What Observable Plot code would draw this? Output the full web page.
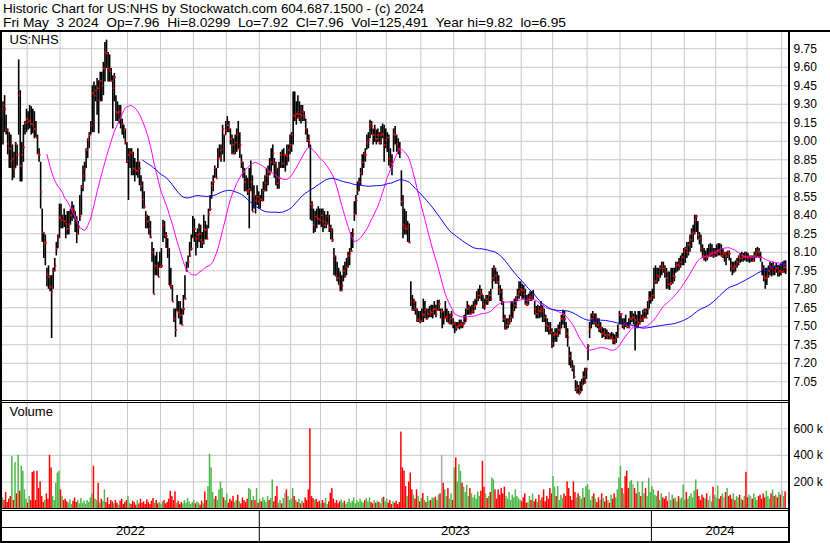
<!DOCTYPE html>
<html><head><meta charset="utf-8">
<script src="https://cdn.jsdelivr.net/npm/d3@7"></script>
<script src="https://cdn.jsdelivr.net/npm/@observablehq/plot@0.6"></script>
<style>
body{margin:0;background:#fff;}
#chart{position:relative;width:830px;height:543px;background:#fff;overflow:hidden;font-family:"Liberation Sans",Arial,sans-serif;}
#chart svg{position:absolute;}
.ln{position:absolute;background:#000;}
</style></head><body><div id="chart"></div>
<script>
const titleLine = "Historic Chart for US:NHS by Stockwatch.com 604.687.1500 - (c) 2024";
const statsLine = "Fri May  3 2024  Op=7.96  Hi=8.0299  Lo=7.92  Cl=7.96  Vol=125,491  Year hi=9.82  lo=6.95";
const symbolLabel = "US:NHS";
const volumeLabel = "Volume";

// daily bars, May 2022 - May 3 2024 (prices in cents)
const highs = [
932,937,921,910,907,905,897,891,899,897,
966,941,899,913,916,926,924,929,928,926,
924,916,905,894,883,845,826,824,797,799,
791,791,797,805,818,824,849,849,840,845,
840,843,843,845,851,848,843,839,835,856,
864,880,883,894,902,907,916,945,948,945,
951,949,956,956,964,980,982,972,970,959,
953,955,937,932,929,929,918,913,910,899,
894,894,894,891,886,883,894,883,872,867,
859,843,840,839,835,818,813,807,810,802,
810,813,836,835,826,821,813,797,783,764,
764,775,770,770,764,775,791,802,807,818,
824,839,837,826,829,833,832,826,840,835,
832,845,856,867,872,880,878,894,897,897,
913,905,916,920,916,910,905,902,905,910,
916,907,889,883,878,872,870,878,884,872,
864,856,864,859,856,861,867,872,878,880,
886,894,897,886,883,878,883,891,893,894,
889,897,897,905,907,940,940,932,937,932,
929,929,924,918,910,905,897,851,845,843,
845,847,845,845,845,843,840,843,840,832,
829,813,807,802,797,794,791,799,802,805,
810,813,826,829,851,856,867,870,878,889,
891,894,905,907,917,916,910,913,909,910,
907,912,914,913,910,907,905,894,889,910,
912,905,902,899,876,856,845,843,835,833,
786,775,772,770,764,762,762,764,772,770,
764,764,766,767,767,770,767,771,771,764,
764,762,770,764,762,760,762,756,753,753,
753,755,755,753,759,764,770,767,766,767,
770,772,778,780,783,780,775,772,775,775,
778,780,797,799,797,794,791,783,780,770,
759,756,756,759,770,770,772,774,780,786,
786,784,783,780,775,776,778,778,779,770,
766,767,766,770,767,764,759,756,753,753,
748,745,748,748,751,753,759,763,762,753,
748,733,729,722,718,706,705,702,705,707,
713,716,716,735,753,760,762,760,760,756,
756,753,749,748,748,747,745,744,745,744,
743,745,751,762,760,756,756,759,753,756,
762,762,760,762,759,762,762,759,763,764,
764,770,778,778,780,797,799,797,797,799,
802,802,799,797,794,794,797,797,797,802,
802,805,807,809,813,814,818,818,824,829,
832,840,840,835,826,824,816,813,811,813,
816,817,816,813,813,816,817,817,816,813,
810,810,811,811,805,802,802,803,805,807,
809,810,809,810,810,809,807,807,807,810,
813,814,813,810,802,799,797,797,799,802,
801,802,799,801,799,799,801,802,803,803];
const lows = [
897,907,905,889,878,878,868,870,878,880,
905,867,867,883,905,907,909,910,905,906,
902,903,889,883,845,818,805,799,782,780,
778,740,780,794,807,813,821,829,829,830,
821,824,824,832,835,837,826,817,824,835,
840,859,867,878,886,894,905,907,907,932,
921,906,932,932,937,948,959,948,948,948,
910,932,916,916,914,910,905,902,897,882,
852,878,872,872,867,872,870,864,859,845,
845,829,829,824,821,802,776,791,791,790,
797,797,818,821,813,805,783,780,770,753,
741,762,756,751,751,759,772,794,797,806,
811,821,818,807,813,818,813,813,816,820,
820,829,843,853,859,870,870,878,886,883,
889,883,905,907,907,897,889,889,889,891,
893,886,878,870,859,859,856,829,859,843,
845,841,848,845,845,851,851,859,859,864,
872,875,880,870,864,861,861,878,878,878,
875,880,883,889,891,897,916,913,918,916,
914,916,916,905,899,894,836,835,825,826,
829,832,832,830,826,829,829,832,826,820,
818,791,790,786,783,778,778,786,789,791,
797,799,810,813,835,840,856,859,864,872,
878,883,893,894,902,905,897,899,897,899,
897,897,902,883,894,891,880,878,872,891,
897,891,889,886,847,821,824,824,818,817,
766,762,762,759,753,753,752,753,753,756,
755,756,757,757,756,759,757,762,762,756,
748,751,756,753,752,751,751,748,744,746,
748,747,748,748,751,753,759,759,759,760,
760,763,767,770,772,770,764,763,767,767,
770,770,780,786,784,784,775,770,767,753,
747,747,748,751,753,756,762,764,770,772,
774,772,772,767,766,767,770,770,771,759,
756,756,756,757,753,753,745,745,743,743,
732,733,737,737,741,743,748,751,748,740,
733,718,716,713,707,697,695,695,695,697,
702,703,707,722,740,748,751,751,749,748,
745,744,740,741,739,739,739,739,739,735,
735,736,740,751,751,748,747,749,748,748,
751,753,751,730,748,748,751,753,753,756,
756,759,764,768,770,772,784,784,786,789,
791,793,789,780,780,779,783,784,786,793,
794,795,797,799,799,801,805,807,810,813,
818,824,826,820,816,810,805,803,802,803,
806,806,806,805,806,806,807,807,806,805,
802,799,805,803,794,791,793,794,797,799,
801,802,802,803,802,802,801,802,802,802,
805,806,805,802,791,786,780,783,789,791,
790,791,791,793,790,790,791,793,793,792];
const closes = [
929,926,909,898,894,884,886,878,898,889,
937,880,889,895,915,918,916,917,914,913,
910,903,890,889,859,826,817,818,792,790,
782,778,795,799,813,822,838,836,839,835,
833,829,833,840,845,844,839,825,830,839,
863,872,878,893,901,905,913,939,937,941,
943,933,949,945,959,972,971,959,957,949,
943,952,924,923,924,921,914,909,899,884,
889,891,890,878,877,876,884,878,864,853,
847,839,835,829,822,810,776,799,797,790,
798,799,832,824,823,813,783,782,770,756,
747,762,761,759,751,764,772,795,802,807,
813,822,829,821,824,825,820,818,829,828,
821,841,845,864,867,878,870,886,887,893,
910,905,909,913,910,902,897,890,899,905,
894,897,883,875,867,860,859,861,867,843,
856,852,855,851,853,852,860,866,872,875,
874,883,890,882,878,866,870,889,882,889,
889,888,893,897,905,921,920,922,919,922,
921,924,920,910,901,899,849,848,832,839,
838,837,836,840,835,832,834,839,830,828,
820,807,791,789,784,779,783,795,791,798,
807,809,811,825,841,852,860,867,874,883,
890,889,899,901,914,912,905,910,902,905,
899,905,906,897,901,903,886,882,880,906,
905,898,894,891,851,832,830,829,831,818,
770,763,770,764,755,756,754,760,759,763,
756,760,762,761,763,764,760,763,768,762,
762,756,757,758,753,756,759,752,753,749,
750,751,752,751,753,756,764,766,760,762,
766,767,772,775,778,776,768,766,772,770,
775,772,789,797,791,786,780,778,772,756,
748,751,753,755,757,762,767,772,775,778,
780,779,776,768,767,772,774,772,776,764,
760,763,762,764,762,757,751,750,748,745,
736,743,744,743,747,748,756,759,756,744,
741,726,722,716,709,699,700,695,697,703,
709,705,715,734,748,756,759,753,757,751,
748,749,744,745,743,741,743,740,741,739,
737,741,748,759,760,751,752,751,750,749,
756,757,757,755,751,753,756,755,757,762,
757,764,772,773,775,786,787,791,790,797,
799,797,794,789,784,784,785,791,790,799,
800,799,802,806,811,813,810,816,820,825,
826,836,839,824,821,813,807,806,807,806,
809,809,810,807,809,810,811,810,807,809,
809,807,810,809,799,797,799,798,802,806,
805,807,806,807,806,805,806,806,803,807,
809,811,810,806,797,790,789,791,795,798,
797,799,795,797,794,795,794,794,798,796];
// daily volume, thousands of shares
const volumes = [
80,60,120,45,70,90,390,60,345,110,
400,130,318,280,140,70,40,90,60,270,
280,60,280,150,200,90,45,60,110,70,
400,305,90,60,190,267,280,140,90,60,
70,50,40,65,30,55,80,45,60,35,
75,40,55,30,60,45,80,110,318,70,
60,190,40,70,55,140,45,80,30,60,
50,35,60,40,25,55,70,30,45,60,
90,40,30,55,45,25,60,35,70,40,
50,30,65,45,30,55,75,40,60,35,
45,30,50,60,35,45,70,130,90,60,
125,40,55,30,45,35,60,40,75,50,
30,45,60,35,50,40,25,55,35,125,
60,165,408,305,120,70,90,60,140,200,
150,80,60,110,40,70,55,90,45,60,
100,50,35,80,60,45,70,150,140,60,
90,60,150,40,70,50,80,60,45,90,
60,75,215,50,90,165,40,60,35,75,
113,140,90,60,70,150,90,60,45,70,
35,55,40,80,60,140,600,90,75,60,
70,45,55,35,60,40,75,30,50,115,
150,70,40,60,35,50,65,40,55,30,
45,70,40,55,80,35,60,45,70,50,
40,60,75,50,80,45,35,60,40,55,
45,35,75,85,50,70,40,60,30,50,
40,55,30,45,575,305,280,165,90,200,
267,140,100,70,140,90,50,75,113,60,
45,90,55,60,80,75,85,60,100,110,
400,190,140,90,150,70,110,60,305,380,
200,330,280,190,160,120,175,90,150,110,
80,100,70,125,90,130,355,160,110,75,
90,120,230,215,140,70,140,100,150,110,
160,90,70,120,60,100,80,140,90,75,
60,50,80,110,40,45,90,60,110,50,
70,45,100,60,80,140,50,90,70,150,
110,240,160,90,165,60,100,75,110,90,
200,150,90,60,200,120,80,110,90,70,
150,80,165,180,140,60,90,110,70,45,
80,60,110,75,50,90,60,40,100,70,
110,80,140,230,318,150,110,240,280,150,
200,210,180,150,110,200,120,90,200,110,
150,90,228,120,164,140,100,90,130,60,
110,80,70,90,55,120,60,100,70,80,
50,90,70,80,177,60,120,70,90,110,
80,130,215,140,90,60,100,80,70,110,
60,90,50,160,100,80,170,70,90,110,
80,120,150,90,100,70,110,60,90,80,
100,70,60,90,272,80,100,90,70,110,
80,60,90,100,70,110,80,130,90,70,
110,140,90,100,80,120,100,130,90,125];

// first trading-day index of each month (Jun 2022 ... May 2024) and of each year
const monthStarts = [16,37,57,80,101,122,143,164,184,203,226,245,267,288,308,331,351,373,394,414,435,455,475,497];
const yearStarts = [164,414];
const yearLabels = ["2022","2023","2024"];
const priceTicks = [9.75,9.60,9.45,9.30,9.15,9.00,8.85,8.70,8.55,8.40,8.25,8.10,7.95,7.80,7.65,7.50,7.35,7.20,7.05];
const volumeTicks = [200,400,600];
const maShort = 29, maLong = 90;

const bars = closes.map((c, i) => ({
  i, h: highs[i] / 100, l: lows[i] / 100, c: c / 100, v: volumes[i],
  dir: i === 0 || c > closes[i - 1] ? "up" : c < closes[i - 1] ? "down" : "flat"
}));

const GRID = "#c8c8c8";
const FONT = "'Liberation Sans', Arial, sans-serif";
const xDomain = [-0.956, 500.8];
const baseStyle = {fontFamily: FONT, fontSize: "12px", color: "#000", background: "none", overflow: "visible"};
const root = document.getElementById("chart");

// header
root.insertAdjacentHTML("beforeend",
  `<svg width="830" height="31" style="left:0;top:0;font-family:${FONT}">
    <text x="3" y="13" font-size="13" textLength="421" lengthAdjust="spacingAndGlyphs" style="white-space:pre">${titleLine}</text>
    <text x="3" y="27" font-size="13" textLength="563" lengthAdjust="spacingAndGlyphs" style="white-space:pre">${statsLine}</text>
  </svg>`);

const gx = d => d - 0.6;

const main = Plot.plot({
  width: 830, height: 368, marginLeft: 1, marginRight: 42, marginTop: 0, marginBottom: 0,
  style: baseStyle,
  x: {domain: xDomain, axis: null},
  y: {domain: [6.898, 9.882], label: null},
  marks: [
    Plot.ruleY(priceTicks, {stroke: GRID, strokeOpacity: 1}),
    Plot.ruleX(monthStarts, {x: gx, stroke: GRID, strokeOpacity: 1}),
    Plot.ruleX(bars, {x: "i", y1: "l", y2: "h", stroke: "#000", strokeWidth: 1.6}),
    Plot.dot(bars, {x: "i", y: "c", symbol: "square", r: 1.0, fill: "#ff0000", dx: 0.6}),
    Plot.line(bars, Plot.windowY({k: maShort, anchor: "end", strict: true}, {x: "i", y: "c", stroke: "#ff00ff", strokeWidth: 1})),
    Plot.line(bars, Plot.windowY({k: maLong, anchor: "end", strict: true}, {x: "i", y: "c", stroke: "#0000ff", strokeWidth: 1})),
    Plot.axisY(priceTicks, {anchor: "right", label: null, tickSize: 0, tickPadding: 5, tickFormat: d => d.toFixed(2), fontSize: 12}),
    Plot.text([symbolLabel], {frameAnchor: "top-left", dx: 8, dy: 2, lineAnchor: "top", textAnchor: "start", fontSize: 13})
  ]
});
main.style.left = "0px"; main.style.top = "32px";
root.appendChild(main);

const vol = Plot.plot({
  width: 830, height: 105, marginLeft: 1, marginRight: 42, marginTop: 0, marginBottom: 0,
  style: baseStyle,
  x: {domain: xDomain, axis: null},
  y: {domain: [0, 790], label: null},
  color: {domain: ["up", "down", "flat"], range: ["#4cb847", "#ff0000", "#a8a8a8"]},
  marks: [
    Plot.ruleY(volumeTicks, {stroke: GRID, strokeOpacity: 1}),
    Plot.ruleX(monthStarts, {x: gx, stroke: GRID, strokeOpacity: 1}),
    Plot.rect(bars, {x1: d => d.i - 0.5, x2: d => d.i + 0.45, y1: 0, y2: "v", fill: "dir"}),
    Plot.axisY(volumeTicks, {anchor: "right", label: null, tickSize: 0, tickPadding: 5, tickFormat: d => d + " k", fontSize: 12}),
    Plot.text([volumeLabel], {frameAnchor: "top-left", dx: 8, dy: 3, lineAnchor: "top", textAnchor: "start", fontSize: 13})
  ]
});
vol.style.left = "0px"; vol.style.top = "403px";
root.appendChild(vol);

const bounds = [xDomain[0], ...yearStarts.map(gx), xDomain[1]];
const yearRows = yearLabels.map((t, k) => ({t, mid: (bounds[k] + bounds[k + 1]) / 2}));
const strip = Plot.plot({
  width: 830, height: 30, marginLeft: 1, marginRight: 42, marginTop: 0, marginBottom: 0,
  style: baseStyle,
  x: {domain: xDomain, axis: null},
  marks: [
    Plot.ruleX(yearStarts, {x: gx, stroke: "#000", strokeWidth: 1}),
    Plot.text(yearRows, {x: "mid", text: "t", frameAnchor: "bottom", dy: -7, fontSize: 13})
  ]
});
strip.style.left = "0px"; strip.style.top = "511px";
root.appendChild(strip);

// frame lines
const lines = [
  [0, 30, 830, 2], [0, 30, 2, 513], [788, 30, 2, 513],
  [0, 400, 788, 1], [0, 402, 788, 1],
  [0, 508, 788, 1], [0, 510, 788, 1],
  [0, 527, 788, 1], [0, 541, 790, 2]
];
for (const [l, t, w, h] of lines) {
  const d = document.createElement("div");
  d.className = "ln";
  Object.assign(d.style, {left: l + "px", top: t + "px", width: w + "px", height: h + "px"});
  root.appendChild(d);
}
</script></body></html>
